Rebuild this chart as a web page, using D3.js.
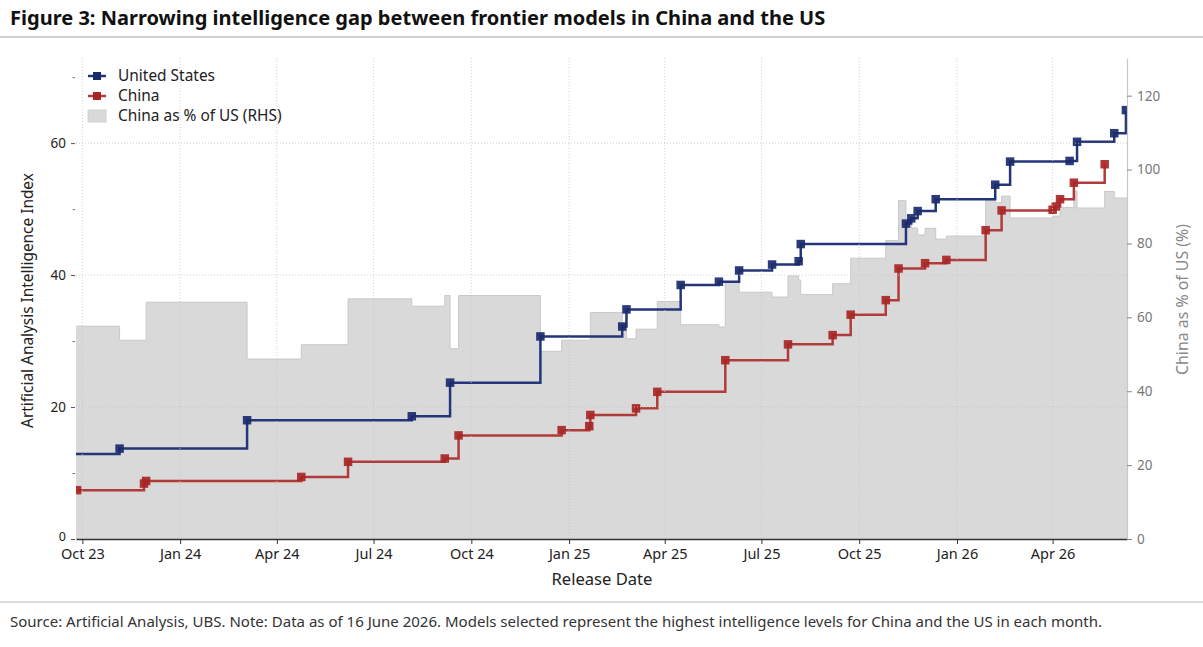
<!DOCTYPE html>
<html>
<head>
<meta charset="utf-8">
<script src="https://cdn.jsdelivr.net/npm/d3@7/dist/d3.min.js"></script>
<style>
body{margin:0;background:#fff;}
svg text{font-family:"Noto Sans",sans-serif;}
</style>
</head>
<body>
<svg id="chart" width="1203" height="647"></svg>
<script>
// ---- data ----
var usDates = ["2023-09-18","2023-11-05","2024-03-04","2024-08-06","2024-09-11","2024-12-05","2025-02-20","2025-02-24","2025-04-16","2025-05-22","2025-06-10","2025-07-11","2025-08-05","2025-08-07","2025-11-14","2025-11-19","2025-11-25","2025-12-12","2026-02-06","2026-02-20","2026-04-17","2026-04-24","2026-05-29","2026-06-09"];
var usValues = [12.9,13.7,18.0,18.6,23.7,30.7,32.2,34.8,38.5,39.0,40.7,41.6,42.1,44.7,47.8,48.6,49.7,51.5,53.7,57.2,57.3,60.2,61.5,65.0];

var cnDates = ["2023-09-26","2023-11-28","2023-11-30","2024-04-24","2024-06-07","2024-09-06","2024-09-19","2024-12-25","2025-01-20","2025-01-21","2025-03-05","2025-03-25","2025-05-28","2025-07-26","2025-09-06","2025-09-23","2025-10-26","2025-11-07","2025-12-02","2025-12-22","2026-01-28","2026-02-12","2026-04-01","2026-04-04","2026-04-08","2026-04-21","2026-05-20"];
var cnValues = [7.4,8.4,8.8,9.4,11.7,12.2,15.7,16.5,17.1,18.8,19.8,22.3,27.1,29.5,30.9,34.0,36.2,41.0,41.8,42.3,46.8,49.8,49.9,50.4,51.5,54.0,56.8];

var ratioDates = ["2023-09-18","2023-11-05","2023-11-30","2024-03-04","2024-04-24","2024-06-07","2024-08-06","2024-09-06","2024-09-11","2024-09-19","2024-12-05","2024-12-25","2025-01-21","2025-02-20","2025-02-24","2025-03-05","2025-03-25","2025-04-16","2025-05-22","2025-05-28","2025-06-10","2025-07-11","2025-07-26","2025-08-05","2025-08-07","2025-09-06","2025-09-23","2025-10-26","2025-11-07","2025-11-14","2025-11-19","2025-11-25","2025-12-02","2025-12-12","2025-12-22","2026-01-28","2026-02-06","2026-02-12","2026-02-20","2026-04-01","2026-04-08","2026-04-17","2026-04-21","2026-04-24","2026-05-20","2026-05-29","2026-06-10"];
var ratioValues = [57.6,53.8,64.1,48.7,52.6,65.0,63.0,65.9,51.5,65.9,50.8,53.8,61.3,58.4,54.2,56.8,64.3,58.0,57.4,69.5,66.8,65.5,71.2,70.1,66.2,69.1,76.0,80.8,91.6,85.6,84.2,82.3,84.1,81.2,82.0,91.6,91.0,92.8,86.9,87.4,89.8,89.7,94.2,89.6,94.1,92.3,92.3];

var xTickDates = ["2023-10-01","2024-01-01","2024-04-01","2024-07-01","2024-10-01","2025-01-01","2025-04-01","2025-07-01","2025-10-01","2026-01-01","2026-04-01"];
var xTickLabels = ["Oct 23","Jan 24","Apr 24","Jul 24","Oct 24","Jan 25","Apr 25","Jul 25","Oct 25","Jan 26","Apr 26"];
var leftTicks = [0,20,40,60];
var leftMinorTicks = [10,30,50,70];
var rightTicks = [0,20,40,60,80,100,120];

var titleText = "Figure 3: Narrowing intelligence gap between frontier models in China and the US";
var sourceText = "Source: Artificial Analysis, UBS. Note: Data as of 16 June 2026. Models selected represent the highest intelligence levels for China and the US in each month.";

// ---- layout ----
var W = 1203, H = 647;
var L = 76, R = 1127, T = 58, B = 539;
var usColor = "#24357a", usMark = "#1b2a6c";
var cnColor = "#b13a3a", cnMark = "#a82626";

var parse = d3.timeParse("%Y-%m-%d");
var us = usDates.map(function(d,i){return {date:parse(d), v:usValues[i]};});
var cn = cnDates.map(function(d,i){return {date:parse(d), v:cnValues[i]};});
var ratio = ratioDates.map(function(d,i){return {date:parse(d), v:ratioValues[i]};});

var x = d3.scaleTime().domain([parse("2023-09-25"), parse("2026-06-10")]).range([L,R]);
var yL = d3.scaleLinear().domain([0,72.9]).range([B,T]);
var yR = d3.scaleLinear().domain([0,130.2]).range([B,T]);

var svg = d3.select("#chart");

function fit(sel, target){
	var w = sel.node().getComputedTextLength();
	var fs = parseFloat(sel.attr("font-size"));
	sel.attr("font-size", (fs*target/w).toFixed(2));
}

// title + rules
var title = svg.append("text").attr("x",10).attr("y",25)
	.attr("font-size",20).attr("font-weight","bold").attr("fill","#111").text(titleText);
fit(title, 816);
svg.append("line").attr("x1",0).attr("x2",W).attr("y1",37).attr("y2",37)
	.attr("stroke","#cfcfcf").attr("stroke-width",2);
svg.append("line").attr("x1",0).attr("x2",W).attr("y1",602).attr("y2",602)
	.attr("stroke","#dcdcdc").attr("stroke-width",2);
var src = svg.append("text").attr("x",10).attr("y",627)
	.attr("font-size",15).attr("fill","#333").text(sourceText);
fit(src, 1093);

svg.append("defs").append("clipPath").attr("id","plotclip")
	.append("rect").attr("x",L).attr("y",T-6).attr("width",R-L).attr("height",B-T+6);

var plot = svg.append("g").attr("clip-path","url(#plotclip)");

// ratio area (RHS)
var area = d3.area().curve(d3.curveStepAfter)
	.x(function(d){return x(d.date);}).y0(B).y1(function(d){return yR(d.v);});
var areaTop = d3.line().curve(d3.curveStepAfter)
	.x(function(d){return x(d.date);}).y(function(d){return yR(d.v);});
plot.append("path").datum(ratio).attr("d",area).attr("fill","#d9d9d9");
plot.append("path").datum(ratio).attr("d",areaTop).attr("fill","none")
	.attr("stroke","#c9c9c9").attr("stroke-width",1);

// grid
var grid = svg.append("g");
grid.selectAll("line.vg").data(xTickDates).enter().append("line")
	.attr("x1",function(d){return x(parse(d));}).attr("x2",function(d){return x(parse(d));})
	.attr("y1",T).attr("y2",B)
	.attr("stroke","#c4c4c4").attr("stroke-width",0.8).attr("stroke-dasharray","1,2");
grid.selectAll("line.hg").data(leftTicks.slice(1)).enter().append("line")
	.attr("x1",L).attr("x2",R)
	.attr("y1",function(d){return yL(d);}).attr("y2",function(d){return yL(d);})
	.attr("stroke","#c4c4c4").attr("stroke-width",0.8).attr("stroke-dasharray","1,2");

// step lines + markers
var step = d3.line().curve(d3.curveStepAfter)
	.x(function(d){return x(d.date);}).y(function(d){return yL(d.v);});

function drawSeries(data, lineColor, markColor){
	plot.append("path").datum(data).attr("d",step).attr("fill","none")
		.attr("stroke",lineColor).attr("stroke-width",2.5);
	plot.selectAll(null).data(data).enter().append("rect")
		.attr("x",function(d){return x(d.date)-4.25;})
		.attr("y",function(d){return yL(d.v)-4.25;})
		.attr("width",8.5).attr("height",8.5)
		.attr("fill",markColor).attr("fill-opacity",0.92);
}
drawSeries(cn, cnColor, cnMark);
drawSeries(us, usColor, usMark);

// x axis
var xAxis = d3.axisBottom(x)
	.tickValues(xTickDates.map(parse))
	.tickFormat(function(d,i){return xTickLabels[i];})
	.tickSize(5).tickSizeOuter(0).tickPadding(5);
var gx = svg.append("g").attr("transform","translate(0,"+B+")").call(xAxis);
gx.select(".domain").attr("stroke","#333").attr("stroke-width",1.6);
gx.selectAll(".tick line").attr("stroke","#333");
gx.selectAll(".tick text").attr("font-size",14.5).attr("fill","#222")
	.attr("font-family","Noto Sans, sans-serif").attr("dy","0.72em");

var xlab = svg.append("text").attr("x",602).attr("y",585).attr("text-anchor","middle")
	.attr("font-size",15.5).attr("fill","#222").text("Release Date");
fit(xlab, 101);

// left axis
var yAxisL = d3.axisLeft(yL).tickValues(leftTicks).tickSize(4).tickSizeOuter(0).tickPadding(5);
var gyl = svg.append("g").attr("transform","translate("+(L-1)+",0)").call(yAxisL);
gyl.select(".domain").remove();
gyl.selectAll(".tick line").attr("stroke","#555");
gyl.selectAll(".tick text").attr("font-size",13.5).attr("fill","#222")
	.attr("font-family","Noto Sans, sans-serif");
gyl.selectAll(".tick text").filter(function(d){return d===0;})
	.attr("dy","0.1em").attr("font-size",12.5);
var gylm = svg.append("g").attr("transform","translate("+(L-1)+",0)")
	.call(d3.axisLeft(yL).tickValues(leftMinorTicks).tickSize(2.5).tickFormat(""));
gylm.select(".domain").remove();
gylm.selectAll(".tick line").attr("stroke","#777");

var ylab = svg.append("text")
	.attr("transform","translate(33,"+((T+B)/2+2)+") rotate(-90)")
	.attr("text-anchor","middle").attr("font-size",14).attr("fill","#222")
	.text("Artificial Analysis Intelligence Index");
fit(ylab, 255);

// right axis
var yAxisR = d3.axisRight(yR).tickValues(rightTicks).tickSize(5).tickSizeOuter(0).tickPadding(5);
var gyr = svg.append("g").attr("transform","translate("+R+",0)").call(yAxisR);
gyr.select(".domain").attr("stroke","#c8c8c8").attr("stroke-width",1.2);
gyr.selectAll(".tick line").attr("stroke","#888");
gyr.selectAll(".tick text").attr("font-size",13.5).attr("fill","#777")
	.attr("font-family","Noto Sans, sans-serif");

var yrlab = svg.append("text")
	.attr("transform","translate(1188,"+((T+B)/2+1)+") rotate(-90)")
	.attr("text-anchor","middle").attr("font-size",14).attr("fill","#888")
	.text("China as % of US (%)");
fit(yrlab, 151);

// legend
var legend = svg.append("g").attr("transform","translate(88,76)");
var items = [
	{label:"United States", kind:"line", color:usColor, mark:usMark},
	{label:"China", kind:"line", color:cnColor, mark:cnMark},
	{label:"China as % of US (RHS)", kind:"patch"}
];
items.forEach(function(it,i){
	var g = legend.append("g").attr("transform","translate(0,"+(i*20)+")");
	if(it.kind=="line"){
		g.append("line").attr("x1",0).attr("x2",18).attr("y1",0).attr("y2",0)
			.attr("stroke",it.color).attr("stroke-width",2.5);
		g.append("rect").attr("x",5).attr("y",-4).attr("width",8).attr("height",8).attr("fill",it.mark);
	} else {
		g.append("rect").attr("x",0).attr("y",-6).attr("width",18).attr("height",12)
			.attr("fill","#d9d9d9").attr("stroke","#cacaca").attr("stroke-width",0.8);
	}
	var t = g.append("text").attr("x",30).attr("y",5).attr("font-size",14).attr("fill","#222").text(it.label);
	if(i==0) fit(t, 97);
});
var lfs = legend.select("text").attr("font-size");
legend.selectAll("text").attr("font-size",lfs);
</script>
</body>
</html>
